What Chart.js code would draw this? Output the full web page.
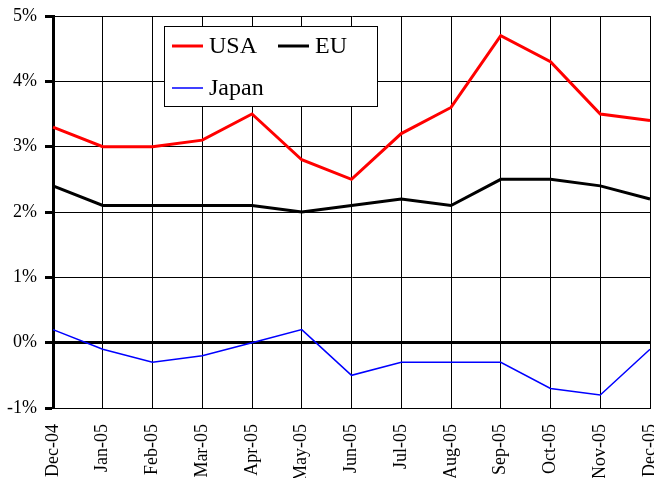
<!DOCTYPE html>
<html>
<head>
<meta charset="utf-8">
<script src="https://cdn.jsdelivr.net/npm/chart.js@4/dist/chart.umd.min.js"></script>
<style>
  html, body { margin: 0; padding: 0; background: #fff; overflow: hidden; }
  #wrap { width: 680px; height: 478px; }
</style>
</head>
<body>
<div id="wrap"><canvas id="chart" width="680" height="478"></canvas></div>
<script>
const months = ["Dec-04", "Jan-05", "Feb-05", "Mar-05", "Apr-05", "May-05", "Jun-05",
                "Jul-05", "Aug-05", "Sep-05", "Oct-05", "Nov-05", "Dec-05"];
const usa   = [3.3, 3.0, 3.0, 3.1, 3.5, 2.8, 2.5, 3.2, 3.6, 4.7, 4.3, 3.5, 3.4];
const eu    = [2.4, 2.1, 2.1, 2.1, 2.1, 2.0, 2.1, 2.2, 2.1, 2.5, 2.5, 2.4, 2.2];
const japan = [0.2, -0.1, -0.3, -0.2, 0.0, 0.2, -0.5, -0.3, -0.3, -0.3, -0.7, -0.8, -0.1];

const serif = '"Liberation Serif", "Times New Roman", serif';

// legend box drawn inside the plot, like the spreadsheet original
const boxLegend = {
    id: 'boxLegend',
    afterDraw(chart) {
        const ctx = chart.ctx;
        const ds = chart.data.datasets;
        const x = 164, y = 26, w = 213, h = 80;
        ctx.save();
        ctx.fillStyle = '#fff';
        ctx.fillRect(x, y, w, h);
        ctx.strokeStyle = '#000';
        ctx.lineWidth = 1;
        ctx.strokeRect(x + 0.5, y + 0.5, w, h);
        const spots = [[172, 46], [278, 46], [172, 88]];
        ctx.font = '24px ' + serif;
        ctx.textBaseline = 'middle';
        ds.forEach((d, i) => {
            const [lx, ly] = spots[i];
            ctx.strokeStyle = d.borderColor;
            ctx.lineWidth = d.borderWidth;
            ctx.beginPath();
            ctx.moveTo(lx, ly);
            ctx.lineTo(lx + 31, ly);
            ctx.stroke();
            ctx.fillStyle = '#000';
            ctx.fillText(d.label, lx + 37, ly + 1);
        });
        ctx.restore();
    }
};

new Chart(document.getElementById('chart'), {
    type: 'line',
    data: {
        labels: months,
        datasets: [
            { label: 'USA', data: usa, borderColor: '#ff0000', borderWidth: 3, pointRadius: 0, tension: 0 },
            { label: 'EU', data: eu, borderColor: '#000000', borderWidth: 3, pointRadius: 0, tension: 0 },
            { label: 'Japan', data: japan, borderColor: '#0000ff', borderWidth: 1.5, pointRadius: 0, tension: 0 }
        ]
    },
    options: {
        responsive: false,
        animation: false,
        layout: { padding: { top: 16, right: 30, left: 0, bottom: 0 } },
        plugins: { legend: { display: false }, tooltip: { enabled: false } },
        scales: {
            x: {
                offset: false,
                grid: { color: '#000', lineWidth: 1, drawTicks: false },
                border: { display: true, color: '#000', width: 1 },
                ticks: {
                    autoSkip: false, minRotation: 90, maxRotation: 90, padding: 16,
                    color: '#000', font: { family: serif, size: 18 }
                },
                afterFit(scale) {
                    scale.height = 70;
                    scale.paddingLeft = 0;
                    scale.paddingRight = 0;
                }
            },
            y: {
                min: -1, max: 5,
                grid: {
                    color: '#000',
                    lineWidth: c => (c.tick && c.tick.value === 0 ? 3 : 1),
                    drawTicks: true, tickLength: 8, tickWidth: 3, tickColor: '#000'
                },
                border: { display: true, color: '#000', width: 3 },
                ticks: {
                    stepSize: 1, padding: 8, color: '#000',
                    font: { family: serif, size: 18 },
                    callback: v => v + '%'
                },
                afterFit(scale) {
                    scale.width = 53;
                    scale.paddingTop = 0;
                    scale.paddingBottom = 0;
                }
            }
        }
    },
    plugins: [boxLegend]
});
</script>
</body>
</html>
